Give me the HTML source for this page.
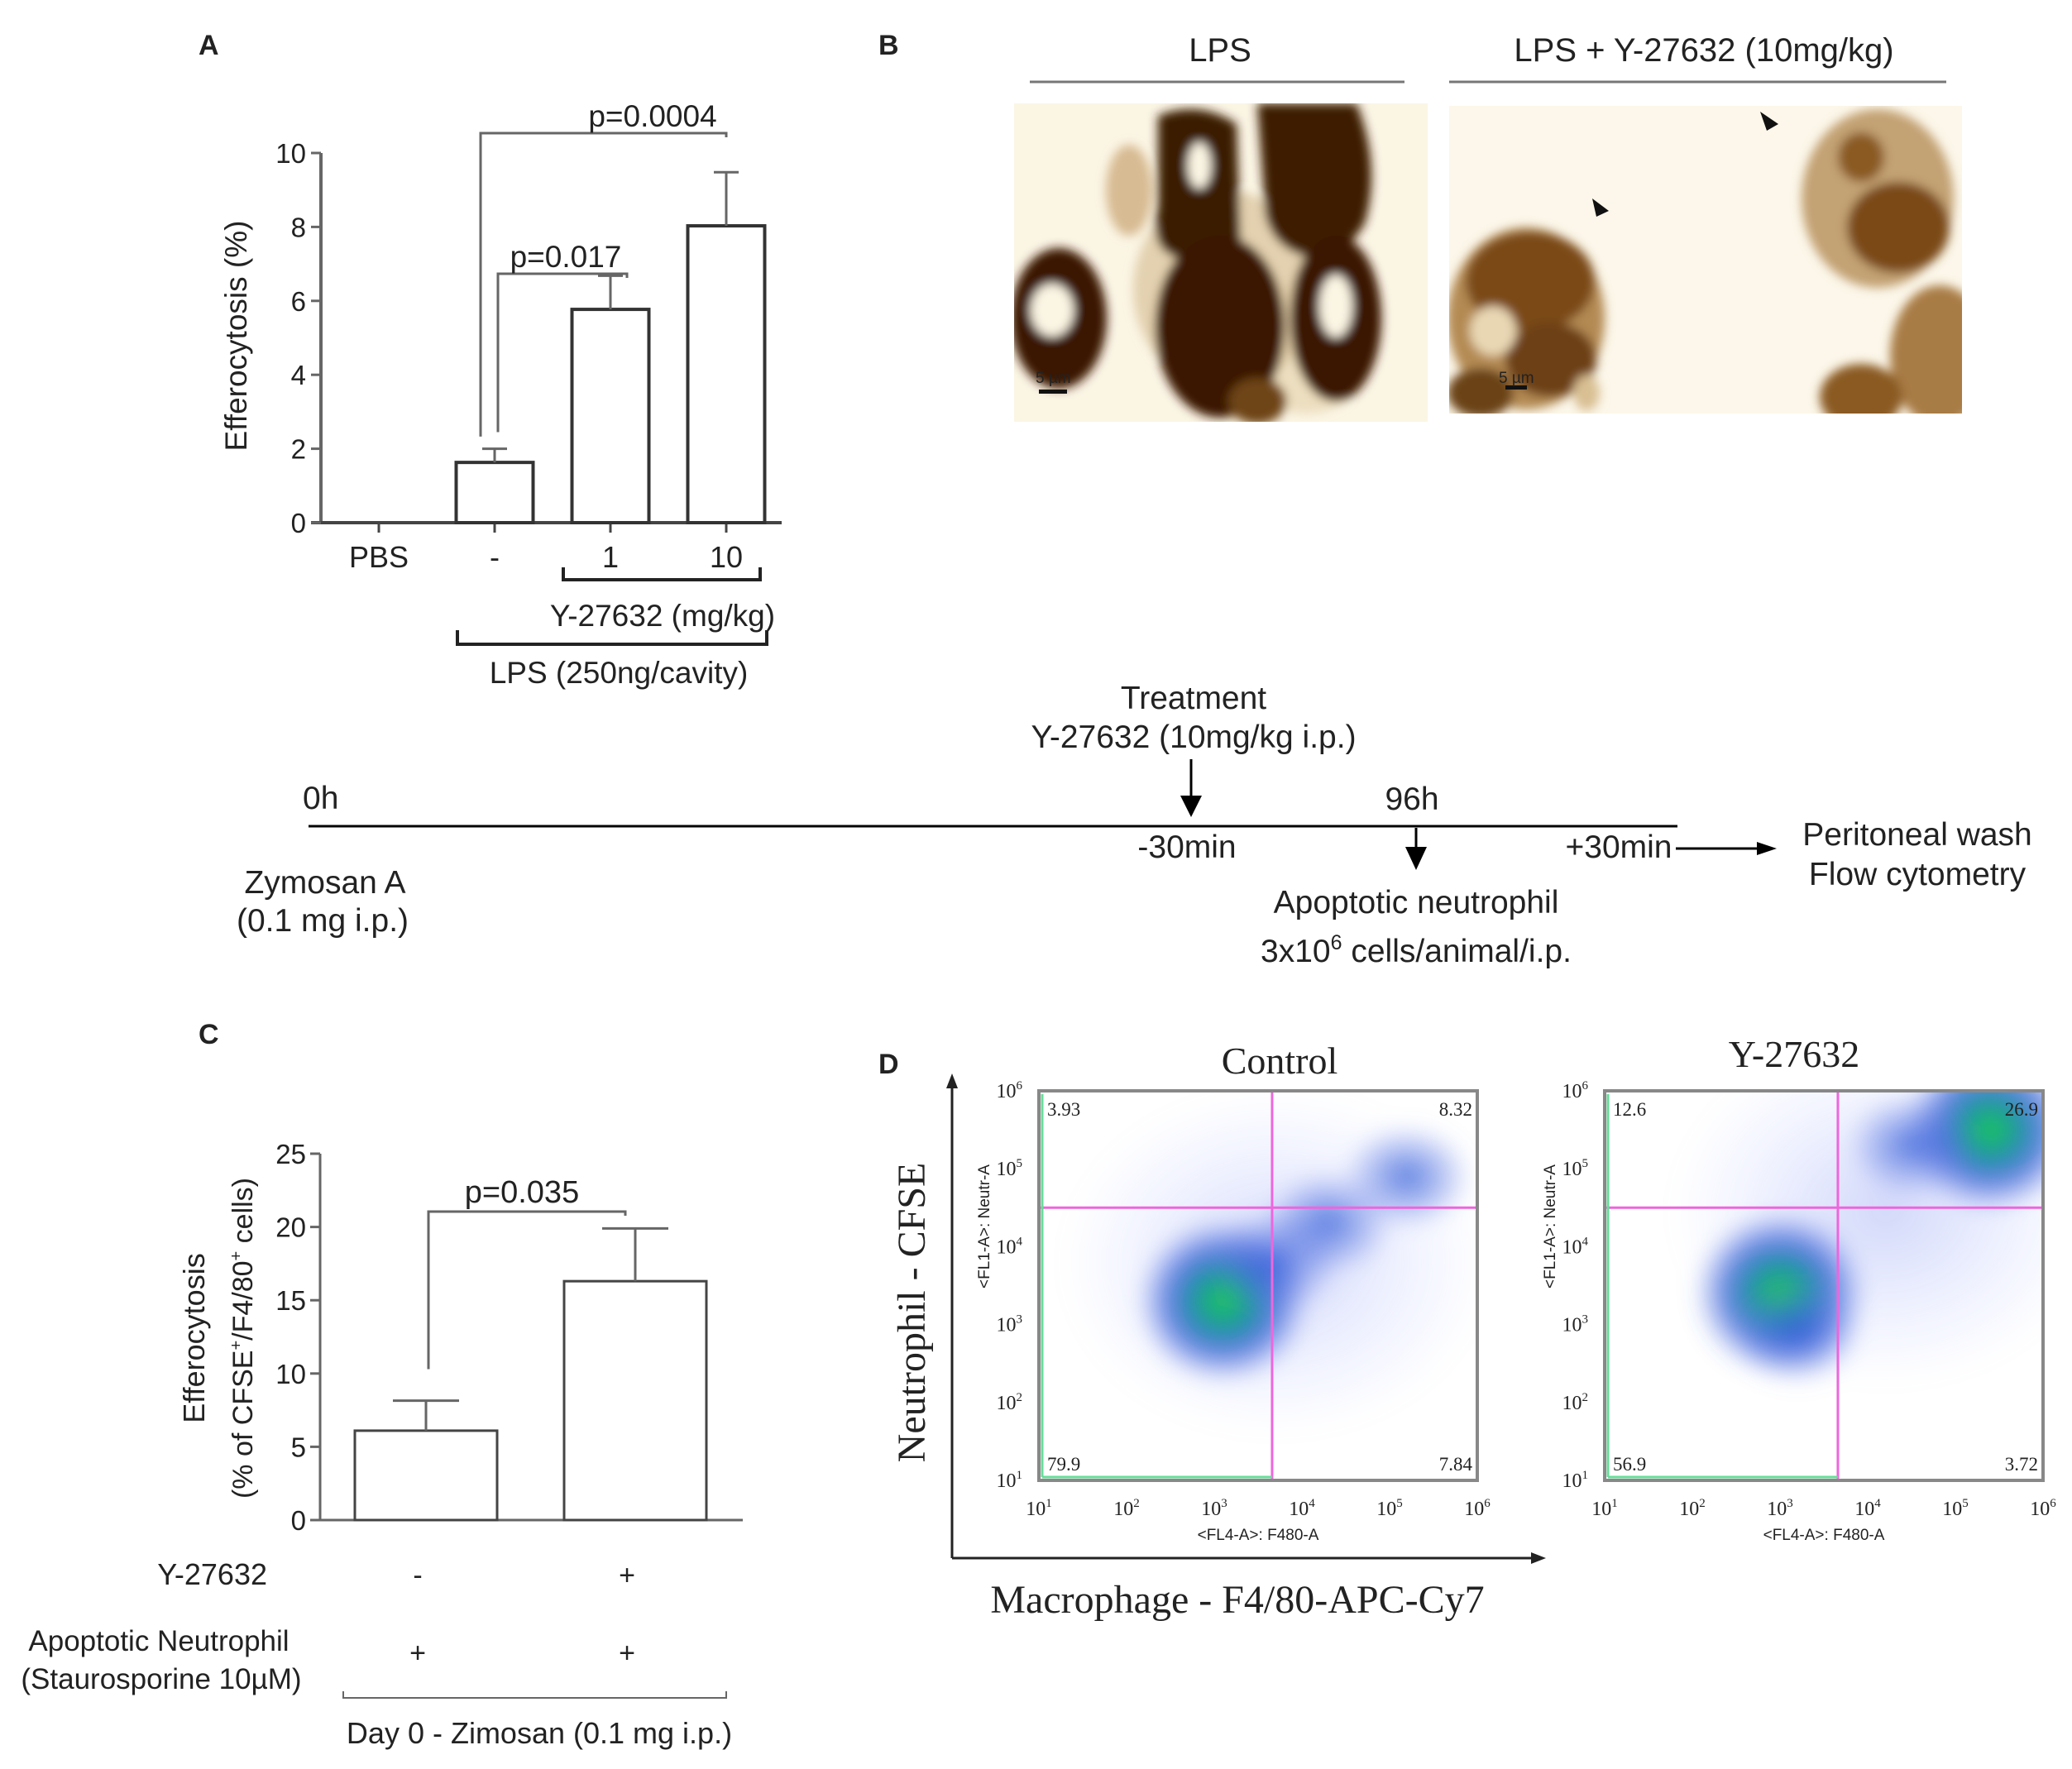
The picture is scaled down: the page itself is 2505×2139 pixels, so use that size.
<!DOCTYPE html>
<html><head><meta charset="utf-8">
<style>
html,body{margin:0;padding:0;background:#fff;}
svg{display:block;}
text{font-family:"Liberation Sans",sans-serif;fill:#222;}
.serif{font-family:"Liberation Serif",serif;}
</style></head>
<body>
<svg id="fig" width="2505" height="2139" viewBox="0 0 2505 2139" xmlns="http://www.w3.org/2000/svg">
<defs>
<filter id="blur6"><feGaussianBlur stdDeviation="6"/></filter>
<filter id="blur14"><feGaussianBlur stdDeviation="12"/></filter>
<radialGradient id="dens" cx="50%" cy="50%" r="50%">
<stop offset="0" stop-color="#22cc55"/><stop offset="0.3" stop-color="#1a9a9a"/><stop offset="0.6" stop-color="#2050d0" stop-opacity="0.7"/><stop offset="1" stop-color="#4060e0" stop-opacity="0"/>
</radialGradient>
<radialGradient id="densB" cx="50%" cy="50%" r="50%">
<stop offset="0" stop-color="#2a58d8" stop-opacity="0.75"/><stop offset="0.6" stop-color="#5070e0" stop-opacity="0.35"/><stop offset="1" stop-color="#8090f0" stop-opacity="0"/>
</radialGradient>
<radialGradient id="haze" cx="50%" cy="50%" r="50%">
<stop offset="0" stop-color="#7f8ff0" stop-opacity="0.35"/><stop offset="1" stop-color="#a0b0ff" stop-opacity="0"/>
</radialGradient>
<clipPath id="clipBL"><rect x="1226" y="125" width="500" height="385"/></clipPath>
<clipPath id="clipBR"><rect x="1752" y="128" width="620" height="372"/></clipPath>
<clipPath id="clipFL"><rect x="1256" y="1319" width="530" height="471"/></clipPath>
<clipPath id="clipFR"><rect x="1940" y="1319" width="530" height="471"/></clipPath>
</defs>

<text x="240" y="66" font-size="34" font-weight="bold">A</text>
<text x="1062" y="66" font-size="34" font-weight="bold">B</text>
<text x="240" y="1262" font-size="34" font-weight="bold">C</text>
<text x="1062" y="1298" font-size="34" font-weight="bold">D</text>

<g id="chartA"></g>
<g id="chartC"></g>

<g>
<text x="1475" y="74" font-size="40" text-anchor="middle">LPS</text>
<line x1="1245" y1="99" x2="1698" y2="99" stroke="#777" stroke-width="3"/>
<text x="2060" y="74" font-size="40" text-anchor="middle">LPS + Y-27632 (10mg/kg)</text>
<line x1="1752" y1="99" x2="2353" y2="99" stroke="#777" stroke-width="3"/>
<g clip-path="url(#clipBL)">
<rect x="1226" y="125" width="500" height="385" fill="#fbf5e4"/>
<g filter="url(#blur6)">
<ellipse cx="1480" cy="350" rx="110" ry="120" fill="#d9c29a" opacity="0.7"/>
<ellipse cx="1580" cy="420" rx="80" ry="80" fill="#e2cfa6" opacity="0.6"/>
<ellipse cx="1365" cy="230" rx="28" ry="55" fill="#c7a26f" opacity="0.7"/>
<path d="M1400 140 Q1450 120 1495 150 L1500 310 Q1460 330 1420 310 Q1390 300 1400 250 Z" fill="#3b1a05"/>
<ellipse cx="1450" cy="200" rx="14" ry="28" fill="#fbf5e4"/>
<path d="M1520 125 L1640 125 Q1670 200 1650 270 Q1620 320 1580 310 Q1540 300 1530 260 Z" fill="#3e1c06"/>
<ellipse cx="1475" cy="395" rx="78" ry="110" fill="#3a1905"/>
<ellipse cx="1615" cy="385" rx="55" ry="100" fill="#3a1905"/>
<ellipse cx="1615" cy="370" rx="20" ry="38" fill="#fbf5e4"/>
<ellipse cx="1280" cy="385" rx="58" ry="85" fill="#3a1905"/>
<ellipse cx="1272" cy="375" rx="26" ry="32" fill="#fbf5e4"/>
<ellipse cx="1520" cy="485" rx="35" ry="28" fill="#6e4519"/>
</g>
<rect x="1256" y="471" width="34" height="5" fill="#111"/>
<text x="1252" y="463" font-size="19">5 µm</text>
</g>
<g clip-path="url(#clipBR)">
<rect x="1752" y="128" width="620" height="372" fill="#fcf7ea"/>
<g filter="url(#blur6)">
<ellipse cx="1845" cy="385" rx="95" ry="110" fill="#b48a52"/>
<ellipse cx="1850" cy="340" rx="78" ry="60" fill="#7a4a18"/>
<ellipse cx="1875" cy="435" rx="55" ry="45" fill="#6d3f12"/>
<ellipse cx="1805" cy="400" rx="28" ry="30" fill="#e9d7b4"/>
<ellipse cx="2270" cy="240" rx="92" ry="108" fill="#c3a273"/>
<ellipse cx="2295" cy="275" rx="62" ry="55" fill="#7a4a18"/>
<ellipse cx="2250" cy="190" rx="28" ry="30" fill="#8a5a22"/>
<ellipse cx="2345" cy="430" rx="60" ry="85" fill="#a87c45"/>
<ellipse cx="2250" cy="480" rx="50" ry="40" fill="#8a5a22"/>
<ellipse cx="1790" cy="475" rx="40" ry="30" fill="#6a4216"/>
<ellipse cx="1918" cy="475" rx="16" ry="22" fill="#d9bf93"/>
</g>
<polygon points="1925,240 1945,255 1930,262" fill="#111"/>
<polygon points="2128,135 2150,150 2136,158" fill="#111"/>
<rect x="1820" y="466" width="26" height="5" fill="#111"/>
<text x="1812" y="463" font-size="19">5 µm</text>
</g>
</g>

<g>
<text x="1443" y="857" font-size="39" text-anchor="middle">Treatment</text>
<text x="1443" y="904" font-size="39" text-anchor="middle">Y-27632 (10mg/kg i.p.)</text>
<line x1="1440" y1="918" x2="1440" y2="970" stroke="#000" stroke-width="3"/>
<polygon points="1427,962 1453,962 1440,988" fill="#000"/>
<text x="366" y="978" font-size="39">0h</text>
<line x1="373" y1="999" x2="2028" y2="999" stroke="#000" stroke-width="3"/>
<text x="1435" y="1037" font-size="39" text-anchor="middle">-30min</text>
<text x="1707" y="979" font-size="39" text-anchor="middle">96h</text>
<line x1="1712" y1="1001" x2="1712" y2="1030" stroke="#000" stroke-width="3"/>
<polygon points="1699,1024 1725,1024 1712,1052" fill="#000"/>
<text x="1957" y="1037" font-size="39" text-anchor="middle">+30min</text>
<line x1="2026" y1="1026" x2="2130" y2="1026" stroke="#000" stroke-width="3"/>
<polygon points="2124,1018 2148,1026 2124,1034" fill="#000"/>
<text x="2318" y="1022" font-size="39" text-anchor="middle">Peritoneal wash</text>
<text x="2318" y="1070" font-size="39" text-anchor="middle">Flow cytometry</text>
<text x="393" y="1080" font-size="39" text-anchor="middle">Zymosan A</text>
<text x="390" y="1126" font-size="39" text-anchor="middle">(0.1 mg i.p.)</text>
<text x="1712" y="1104" font-size="39" text-anchor="middle">Apoptotic neutrophil</text>
<text x="1712" y="1163" font-size="39" text-anchor="middle">3x10<tspan dy="-15" font-size="25">6</tspan><tspan dy="15"> cells/animal/i.p.</tspan></text>
</g>

<g>
<line x1="1151" y1="1884" x2="1151" y2="1312" stroke="#222" stroke-width="3"/>
<polygon points="1144,1316 1151,1298 1158,1316" fill="#222"/>
<line x1="1151" y1="1884" x2="1855" y2="1884" stroke="#222" stroke-width="3"/>
<polygon points="1851,1877 1869,1884 1851,1891" fill="#222"/>
<text class="serif" x="1103" y="1587" font-size="48" text-anchor="middle" transform="rotate(-90 1103 1587)" dy="15">Neutrophil - CFSE</text>
<text class="serif" x="1496" y="1950" font-size="48" text-anchor="middle">Macrophage - F4/80-APC-Cy7</text>
<text class="serif" x="1547" y="1298" font-size="46" text-anchor="middle">Control</text>
<text class="serif" x="2169" y="1290" font-size="46" text-anchor="middle">Y-27632</text>
<g id="flowL"></g>
<g id="flowR"></g>
</g>
</svg>

<script>
// ---------- Chart A data ----------
const catsA = ["PBS", "-", "1", "10"];
const valsA = [0, 1.63, 5.77, 8.03];
const errA = [0, 0.37, 0.91, 1.45];
const ticksA = [0, 2, 4, 6, 8, 10];
// ---------- Chart C data ----------
const catsC = ["-", "+"];
const valsC = [6.1, 16.3];
const errC = [2.05, 3.6];
const ticksC = [0, 5, 10, 15, 20, 25];
// ---------- Flow data (log10 decades, cluster centres) ----------
const flowTicks = [1, 2, 3, 4, 5, 6];
const quadL = ["3.93", "8.32", "79.9", "7.84"];
const quadR = ["12.6", "26.9", "56.9", "3.72"];
const clustL_x = [3.1, 3.7, 4.3, 5.2];
const clustL_y = [3.3, 3.8, 4.3, 4.9];
const clustR_x = [3.0, 3.2, 5.4, 4.5];
const clustR_y = [3.4, 2.9, 5.5, 5.3];

const NS = "http://www.w3.org/2000/svg";
function mk(parent, tag, attrs, text) {
  const e = document.createElementNS(NS, tag);
  for (const k in attrs) e.setAttribute(k, attrs[k]);
  if (text !== undefined) e.textContent = text;
  parent.appendChild(e);
  return e;
}
const AX = "#666";

// ---------- Chart A ----------
(function () {
  const g = document.getElementById("chartA");
  const x0 = 388, yA = v => 632 - v * 44.7, xA = i => 458 + i * 140, bw = 93;
  let e = mk(g, "line", {x1: x0, y1: yA(0), x2: x0, y2: yA(10), stroke: AX, "stroke-width": 4});
  
  
  e = mk(g, "line", {x1: x0 - 12, y1: yA(0), x2: 945, y2: yA(0), stroke: "#444", "stroke-width": 4});
  
  
  ticksA.forEach(t => {
    mk(g, "line", {x1: x0 - 12, y1: yA(t), x2: x0, y2: yA(t), stroke: AX, "stroke-width": 3});
    const tl = mk(g, "text", {x: 370, y: yA(t) + 12, "font-size": 33, "text-anchor": "end"}, String(t));
    
    
  });
  catsA.forEach((c, i) => {
    const cx = xA(i);
    mk(g, "line", {x1: cx, y1: yA(0), x2: cx, y2: yA(0) + 12, stroke: "#444", "stroke-width": 3});
    if (valsA[i] > 0) {
      const b = mk(g, "rect", {x: cx - bw / 2, y: yA(valsA[i]), width: bw, height: yA(0) - yA(valsA[i]), fill: "#fff", stroke: "#333", "stroke-width": 4});
      
      
      const top = yA(valsA[i] + errA[i]);
      mk(g, "line", {x1: cx, y1: yA(valsA[i]), x2: cx, y2: top, stroke: AX, "stroke-width": 3});
      mk(g, "line", {x1: cx - 15, y1: top, x2: cx + 15, y2: top, stroke: AX, "stroke-width": 3});
    }
    const lb = mk(g, "text", {x: cx, y: 686, "font-size": 36, "text-anchor": "middle"}, c);
    
    
  });
  const yl = mk(g, "text", {x: 285, y: 406, "font-size": 37, "text-anchor": "middle", transform: "rotate(-90 285 406)", dy: 13}, "Efferocytosis (%)");
  
  
  mk(g, "path", {d: `M581 ${yA(2.33)} L581 161 L${xA(3)} 161 L${xA(3)} 166`, fill: "none", stroke: AX, "stroke-width": 3});
  e = mk(g, "text", {x: 789, y: 153, "font-size": 37, "text-anchor": "middle"}, "p=0.0004");
  
  
  mk(g, "path", {d: `M602 ${yA(2.45)} L602 331 L${xA(2) + 20} 331 L${xA(2) + 20} 336`, fill: "none", stroke: AX, "stroke-width": 3});
  e = mk(g, "text", {x: 684, y: 323, "font-size": 37, "text-anchor": "middle"}, "p=0.017");
  
  
  mk(g, "path", {d: "M681 686 L681 701 L919 701 L919 686", fill: "none", stroke: "#222", "stroke-width": 4});
  e = mk(g, "text", {x: 801, y: 757, "font-size": 37, "text-anchor": "middle"}, "Y-27632 (mg/kg)");
  
  
  mk(g, "path", {d: "M553 762 L553 779 L927 779 L927 762", fill: "none", stroke: "#222", "stroke-width": 4});
  e = mk(g, "text", {x: 748, y: 826, "font-size": 37, "text-anchor": "middle"}, "LPS (250ng/cavity)");
  
  
})();

// ---------- Chart C ----------
(function () {
  const g = document.getElementById("chartC");
  const x0 = 387, yC = v => 1838 - v * 17.72, xC = i => 515 + i * 253, bw = 172;
  let e = mk(g, "line", {x1: x0, y1: yC(0), x2: x0, y2: yC(25), stroke: AX, "stroke-width": 3});
  
  
  e = mk(g, "line", {x1: x0 - 12, y1: yC(0), x2: 898, y2: yC(0), stroke: AX, "stroke-width": 3});
  
  
  ticksC.forEach(t => {
    mk(g, "line", {x1: x0 - 12, y1: yC(t), x2: x0, y2: yC(t), stroke: AX, "stroke-width": 3});
    const tl = mk(g, "text", {x: 370, y: yC(t) + 12, "font-size": 33, "text-anchor": "end"}, String(t));
    
    
  });
  catsC.forEach((c, i) => {
    const cx = xC(i);
    const b = mk(g, "rect", {x: cx - bw / 2, y: yC(valsC[i]), width: bw, height: yC(0) - yC(valsC[i]), fill: "#fff", stroke: "#444", "stroke-width": 3});
    
    
    const top = yC(valsC[i] + errC[i]);
    mk(g, "line", {x1: cx, y1: yC(valsC[i]), x2: cx, y2: top, stroke: AX, "stroke-width": 3});
    mk(g, "line", {x1: cx - 40, y1: top, x2: cx + 40, y2: top, stroke: AX, "stroke-width": 3});
    const lb = mk(g, "text", {x: cx - 10, y: 1916, "font-size": 34, "text-anchor": "middle"}, c);
    
    
    const lb2 = mk(g, "text", {x: cx - 10, y: 2010, "font-size": 34, "text-anchor": "middle"}, "+");
    
    
  });
  mk(g, "path", {d: `M518 ${yC(10.3)} L518 1465 L756 1465 L756 1470`, fill: "none", stroke: AX, "stroke-width": 3});
  e = mk(g, "text", {x: 631, y: 1454, "font-size": 38, "text-anchor": "middle"}, "p=0.035");
  
  
  e = mk(g, "text", {x: 235, y: 1618, "font-size": 36, "text-anchor": "middle", transform: "rotate(-90 235 1618)", dy: 12}, "Efferocytosis");
  
  
  e = mk(g, "text", {x: 293, y: 1618, "font-size": 34, "text-anchor": "middle", transform: "rotate(-90 293 1618)", dy: 12});
  e.innerHTML = '(% of CFSE<tspan dy="-13" font-size="20">+</tspan><tspan dy="13">/F4/80</tspan><tspan dy="-13" font-size="20">+</tspan><tspan dy="13"> cells)</tspan>';
  
  
  e = mk(g, "text", {x: 323, y: 1916, "font-size": 36, "text-anchor": "end"}, "Y-27632");
  
  
  e = mk(g, "text", {x: 192, y: 1996, "font-size": 35, "text-anchor": "middle"}, "Apoptotic Neutrophil");
  
  
  e = mk(g, "text", {x: 195, y: 2042, "font-size": 35, "text-anchor": "middle"}, "(Staurosporine 10µM)");
  
  
  mk(g, "path", {d: "M415 2045 L415 2053 L878 2053 L878 2045", fill: "none", stroke: AX, "stroke-width": 2});
  e = mk(g, "text", {x: 652, y: 2108, "font-size": 36, "text-anchor": "middle"}, "Day 0 - Zimosan (0.1 mg i.p.)");
  
  
})();

// ---------- Flow plots ----------
function flow(id, L, quad, cx, cy, gateX, gateYdec, clip) {
  const g = document.getElementById(id);
  const T = 1319, B = 1790, R = L + 530;
  const fx = d => L + (d - 1) / 5 * (R - L);
  const fy = d => B - (d - 1) / 5 * (B - T);
  mk(g, "rect", {x: L, y: T, width: R - L, height: B - T, fill: "#fff"});
  const cg = mk(g, "g", {"clip-path": "url(#" + clip + ")"});
  const bg = mk(cg, "g", {filter: "url(#blur14)"});
  mk(bg, "ellipse", {cx: (fx(cx[0]) + fx(cx[2])) / 2, cy: (fy(cy[0]) + fy(cy[2])) / 2, rx: 260, ry: 210, fill: "url(#haze)"});
  for (let i = 0; i < cx.length; i++) {
    const big = i === 0 || (id === "flowR" && i === 2);
    const el = mk(bg, "ellipse", {cx: fx(cx[i]), cy: fy(cy[i]), rx: big ? 105 : 80, ry: big ? 100 : 65, fill: big ? "url(#dens)" : "url(#densB)"});
    
    
  }
  mk(g, "rect", {x: L, y: T, width: R - L, height: B - T, fill: "none", stroke: "#888", "stroke-width": 4});
  mk(g, "line", {x1: fx(gateX), y1: T + 2, x2: fx(gateX), y2: B - 2, stroke: "#ee66dd", "stroke-width": 3});
  mk(g, "line", {x1: L + 2, y1: fy(gateYdec), x2: R - 2, y2: fy(gateYdec), stroke: "#ee66dd", "stroke-width": 3});
  mk(g, "line", {x1: L + 4, y1: T + 4, x2: L + 4, y2: B - 4, stroke: "#66dd99", "stroke-width": 3});
  mk(g, "line", {x1: L + 4, y1: B - 4, x2: fx(gateX), y2: B - 4, stroke: "#66dd99", "stroke-width": 3});
  flowTicks.forEach(t => {
    const a = mk(g, "text", {x: L - 20, y: fy(t) + 8, "font-size": 24, "text-anchor": "end", "class": "serif", fill: "#444"});
    a.innerHTML = '10<tspan dy="-10" font-size="15">' + t + '</tspan>';
    
    
    const b = mk(g, "text", {x: fx(t), y: 1832, "font-size": 24, "text-anchor": "middle", "class": "serif", fill: "#444"});
    b.innerHTML = '10<tspan dy="-10" font-size="15">' + t + '</tspan>';
    
    
  });
  let e = mk(g, "text", {x: (L + R) / 2, y: 1862, "font-size": 19, "text-anchor": "middle", fill: "#444"}, "<FL4-A>: F480-A");
  
  
  e = mk(g, "text", {x: L - 60, y: 1483, "font-size": 19, "text-anchor": "middle", fill: "#444", transform: `rotate(-90 ${L - 60} 1483)`}, "<FL1-A>: Neutr-A");
  
  
  const pos = [[L + 10, T + 30, "start"], [R - 6, T + 30, "end"], [L + 10, B - 12, "start"], [R - 6, B - 12, "end"]];
  quad.forEach((q, i) => {
    const t = mk(g, "text", {x: pos[i][0], y: pos[i][1], "font-size": 23, "text-anchor": pos[i][2], "class": "serif", fill: "#444"}, q);
    
    
  });
}
flow("flowL", 1256, quadL, clustL_x, clustL_y, 3.66, 4.5, "clipFL");
flow("flowR", 1940, quadR, clustR_x, clustR_y, 3.66, 4.5, "clipFR");
</script>
</body></html>
